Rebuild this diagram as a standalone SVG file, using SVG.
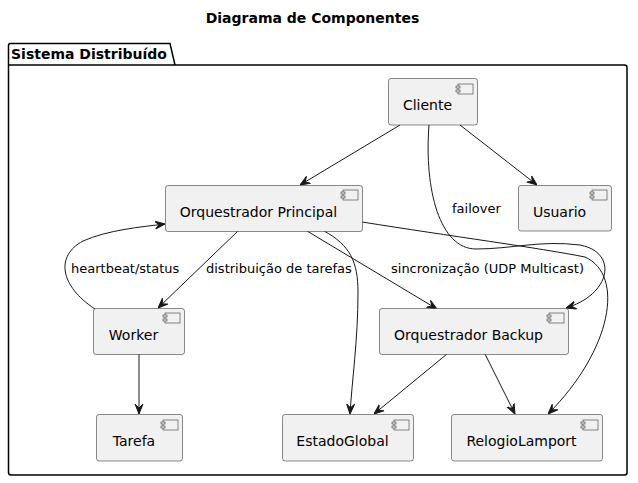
<svg xmlns="http://www.w3.org/2000/svg" width="638" height="483" viewBox="0 0 638 483">
<style>
.box{fill:#F1F1F1;stroke:#181818;stroke-width:0.5}
.icon{fill:#F1F1F1;stroke:#181818;stroke-width:0.5}
.nt{font-family:"DejaVu Sans",sans-serif;font-size:14px;fill:#000;text-anchor:middle}
.lt{font-family:"DejaVu Sans",sans-serif;font-size:13px;fill:#000}
.e{fill:none;stroke:#181818;stroke-width:1;marker-end:url(#ah)}
.title{font-family:"DejaVu Sans",sans-serif;font-size:14px;font-weight:bold;text-anchor:middle}
.pk{font-family:"DejaVu Sans",sans-serif;font-size:14px;font-weight:bold}
</style>
<defs>
<marker id="ah" viewBox="0 0 10 10" refX="10" refY="5" markerWidth="10" markerHeight="10" markerUnits="userSpaceOnUse" orient="auto">
<path d="M0,1 L10,5 L0,9 L4,5 Z" fill="#181818" stroke="#181818" stroke-width="1"/>
</marker>
<g id="ic">
<rect x="2" y="0" width="15" height="10" class="icon"/>
<rect x="0" y="2" width="4" height="2" class="icon"/>
<rect x="0" y="6" width="4" height="2" class="icon"/>
</g>
</defs>
<rect width="638" height="483" fill="#fff"/>
<text class="title" x="312.5" y="23">Diagrama de Componentes</text>
<g id="package">
<path d="M8.5,65 L8.5,45.5 Q8.5,43.5 10.5,43.5 L170,43.5 L175,65 L624.5,65 Q627,65 627,67.5 L627,472.5 Q627,475 624.5,475 L11,475 Q8.5,475 8.5,472.5 Z M8.5,65 L175,65" fill="none" stroke="#000" stroke-width="1.5"/>
<text class="pk" x="11" y="59">Sistema Distribuído</text>
</g>
<g id="connectors">
<path class="e" d="M400,125 L300,185"/>
<path class="e" d="M460,125 L537,185"/>
<path class="e" d="M429,125 C424,190 440,249 476,249 C512,249 540,240 580,245 C618,252 612,294 566,308"/>
<path class="e" d="M238,231 L158,308"/>
<path class="e" d="M95,309 C60,286 55,256 83,241 C108,230 140,227 165,224"/>
<path class="e" d="M307,231 L437,309"/>
<path class="e" d="M324,231 C350,245 358,262 358,292 C358,340 352,380 350,414"/>
<path class="e" d="M362,222 C450,236 540,248 585,257 C625,275 612,350 548,414"/>
<path class="e" d="M139,354 L139,414"/>
<path class="e" d="M447,354 L374,414"/>
<path class="e" d="M485,354 L515,414"/>
<text class="lt" x="452" y="213">failover</text>
<text class="lt" x="206" y="273">distribuição de tarefas</text>
<text class="lt" x="71" y="273">heartbeat/status</text>
<text class="lt" x="391" y="273">sincronização (UDP Multicast)</text>
</g>
<g id="Cliente">
<rect class="box" x="388.5" y="78.5" width="89" height="46.5" rx="2.5"/>
<use href="#ic" x="456" y="84"/>
<text class="nt" x="427.5" y="110">Cliente</text>
</g>
<g id="OrquestradorPrincipal">
<rect class="box" x="165.5" y="185.5" width="197" height="46" rx="2.5"/>
<use href="#ic" x="341" y="190"/>
<text class="nt" x="258.5" y="217">Orquestrador Principal</text>
</g>
<g id="Usuario">
<rect class="box" x="518.5" y="185.5" width="93" height="45.5" rx="2.5"/>
<use href="#ic" x="590" y="190"/>
<text class="nt" x="559.5" y="217">Usuario</text>
</g>
<g id="Worker">
<rect class="box" x="93.5" y="308.5" width="91" height="46" rx="2.5"/>
<use href="#ic" x="163" y="313"/>
<text class="nt" x="133.5" y="340">Worker</text>
</g>
<g id="OrquestradorBackup">
<rect class="box" x="379.5" y="308.5" width="189" height="46" rx="2.5"/>
<use href="#ic" x="547" y="313"/>
<text class="nt" x="468.5" y="340">Orquestrador Backup</text>
</g>
<g id="Tarefa">
<rect class="box" x="96.5" y="414.5" width="86" height="46.5" rx="2.5"/>
<use href="#ic" x="161" y="420"/>
<text class="nt" x="134" y="446">Tarefa</text>
</g>
<g id="EstadoGlobal">
<rect class="box" x="282.5" y="414.5" width="131" height="46.5" rx="2.5"/>
<use href="#ic" x="392" y="420"/>
<text class="nt" x="342.5" y="446">EstadoGlobal</text>
</g>
<g id="RelogioLamport">
<rect class="box" x="451.5" y="414.5" width="151" height="46.5" rx="2.5"/>
<use href="#ic" x="581" y="420"/>
<text class="nt" x="521.5" y="446">RelogioLamport</text>
</g>
</svg>
